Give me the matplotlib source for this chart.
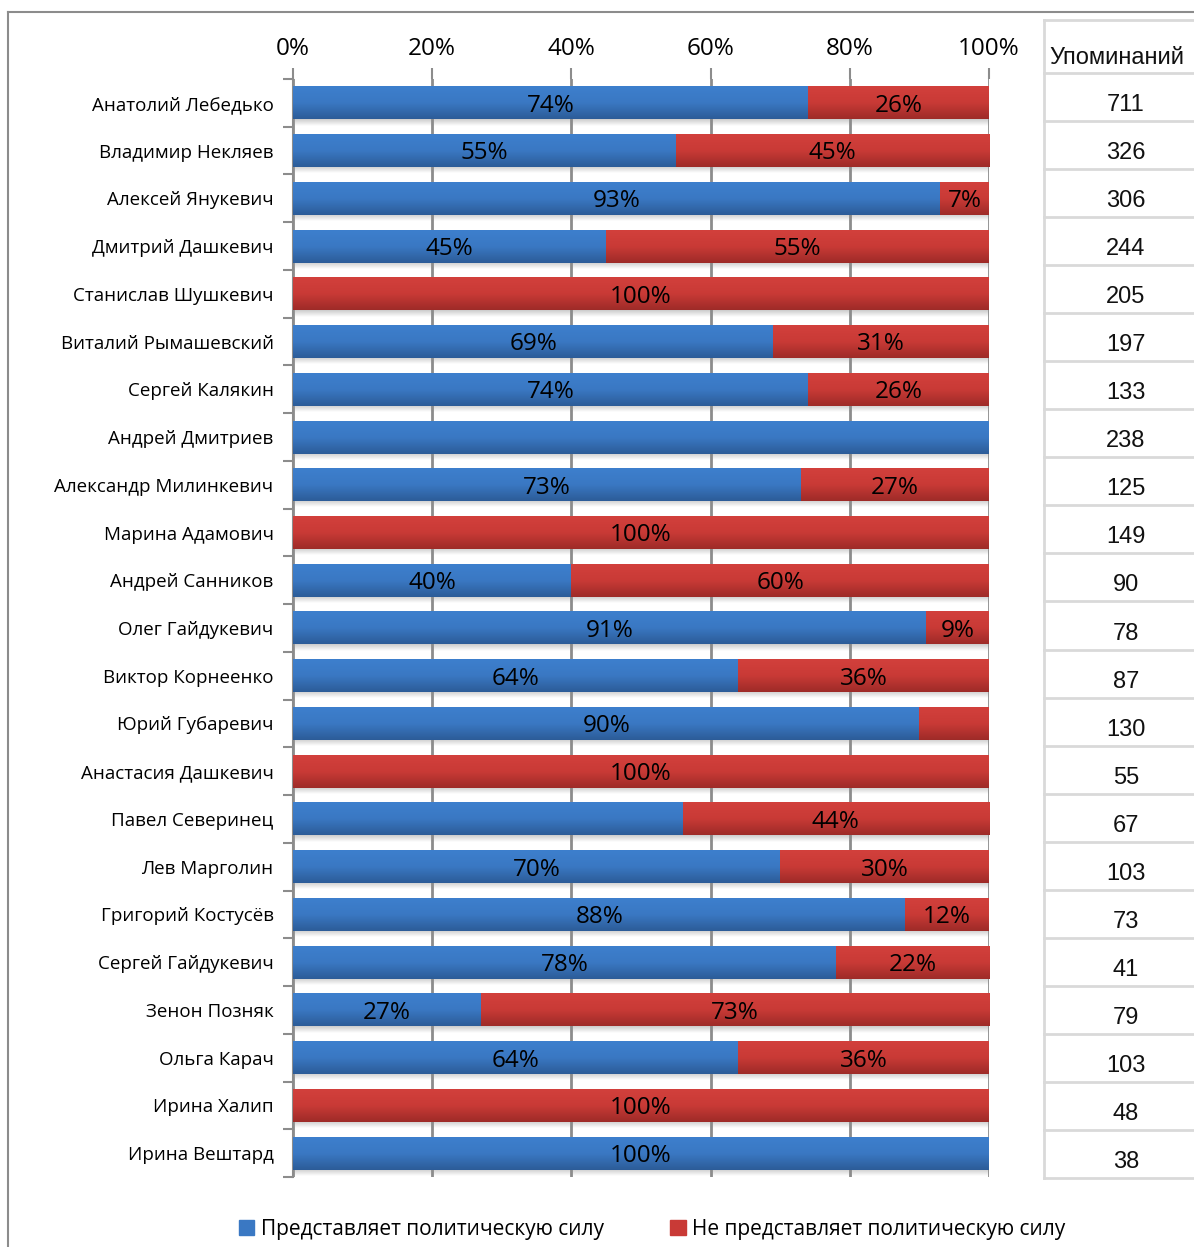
import numpy as np
import matplotlib.pyplot as plt
from matplotlib.colors import LinearSegmentedColormap
from matplotlib.lines import Line2D
from matplotlib.patches import Patch

plt.rcParams['font.family'] = ['Open Sans', 'DejaVu Sans']

# politicians, share of mentions as representing a political force (blue) or not (red)
names = ['Анатолий Лебедько', 'Владимир Некляев', 'Алексей Янукевич', 'Дмитрий Дашкевич',
         'Станислав Шушкевич', 'Виталий Рымашевский', 'Сергей Калякин', 'Андрей Дмитриев',
         'Александр Милинкевич', 'Марина Адамович', 'Андрей Санников', 'Олег Гайдукевич',
         'Виктор Корнеенко', 'Юрий Губаревич', 'Анастасия Дашкевич', 'Павел Северинец',
         'Лев Марголин', 'Григорий Костусёв', 'Сергей Гайдукевич', 'Зенон Позняк',
         'Ольга Карач', 'Ирина Халип', 'Ирина Вештард']
represents = [74, 55, 93, 45, 0, 69, 74, 100, 73, 0, 40, 91, 64, 90, 0, 56, 70, 88, 78, 27, 64, 0, 100]
not_represents = [26, 45, 7, 55, 100, 31, 26, 0, 27, 100, 60, 9, 36, 10, 100, 44, 30, 12, 22, 73, 36, 100, 0]
# some segments have no value label on them
show_blue = [1, 1, 1, 1, 0, 1, 1, 0, 1, 0, 1, 1, 1, 1, 0, 0, 1, 1, 1, 1, 1, 0, 1]
show_red = [1, 1, 1, 1, 1, 1, 1, 0, 1, 1, 1, 1, 1, 0, 1, 1, 1, 1, 1, 1, 1, 1, 0]
mentions = [711, 326, 306, 244, 205, 197, 133, 238, 125, 149, 90, 78, 87, 130, 55, 67,
            103, 73, 41, 79, 103, 48, 38]
x_ticks = [0, 20, 40, 60, 80, 100]
legend_labels = ['Представляет политическую силу', 'Не представляет политическую силу']

W, H = 1194, 1247
fig = plt.figure(figsize=(W / 100, H / 100), dpi=100)


def fx(px):
    return px / W


def fy(py):
    return 1 - py / H


ax = fig.add_axes([fx(293), fy(1177), (989 - 293) / W, (1177 - 79) / H])

blue_cmap = LinearSegmentedColormap.from_list('b', ['#3d7fcd', '#3a78c3', '#2c5c98'])
red_cmap = LinearSegmentedColormap.from_list('r', ['#d2403c', '#c93a36', '#9e2b28'])

y = np.arange(len(names))
bh = 0.69
b1 = ax.barh(y, represents, height=bh, color='#3a78c3', zorder=3)
b2 = ax.barh(y, not_represents, left=represents, height=bh, color='#c93a36', zorder=3)

# vertical gradient on every bar segment
grad = np.linspace(0, 1, 64).reshape(-1, 1)
for bars, cmap in ((b1, blue_cmap), (b2, red_cmap)):
    for p in bars:
        w = p.get_width()
        if w <= 0:
            continue
        x0, y0, h = p.get_x(), p.get_y(), p.get_height()
        ax.imshow(grad, cmap=cmap, aspect='auto', origin='upper',
                  extent=(x0, x0 + w, y0 + h, y0), zorder=3.5, interpolation='bilinear')

# soft shadow under each bar
shade = np.zeros((32, 1, 4))
shade[..., :3] = 0.55
shade[:, 0, 3] = np.linspace(0.45, 0, 32)
for i in y:
    top = i + bh / 2
    ax.imshow(shade, aspect='auto', origin='upper', extent=(0.3, 100, top + 0.13, top),
              zorder=2.5, interpolation='bilinear')

for i in y:
    b, r = represents[i], not_represents[i]
    if show_blue[i] and b > 0:
        ax.text(b / 2, i + 0.06, f'{b}%', ha='center', va='center', fontsize=17.5, zorder=5)
    if show_red[i] and r > 0:
        ax.text(b + r / 2, i + 0.06, f'{r}%', ha='center', va='center', fontsize=17.5, zorder=5)

ax.set_xlim(0, 100)
ax.set_ylim(len(names) - 0.5, -0.5)
ax.set_xticks(x_ticks)
ax.set_xticklabels([f'{t}%' for t in x_ticks], fontsize=17.5)
ax.xaxis.tick_top()
ax.tick_params(axis='x', length=8, width=1.5, color='#8c8c8c', pad=5)
ax.set_yticks(y)
ax.set_yticklabels(names, fontsize=13.5)
ax.set_yticks(np.arange(len(names) + 1) - 0.5, minor=True)
ax.tick_params(axis='y', which='major', length=0, pad=14)
ax.tick_params(axis='y', which='minor', length=7, width=1.5, color='#8c8c8c')
ax.grid(axis='x', color='#8c8c8c', lw=2, zorder=1)
for s in ('top', 'right', 'bottom'):
    ax.spines[s].set_visible(False)
ax.spines['left'].set_color('#8c8c8c')
ax.spines['left'].set_linewidth(1.5)

# outer frame of the chart
fig.add_artist(Line2D([fx(8), fx(8)], [fy(12), fy(1247)], color='#8c8c8c', lw=1.5))
fig.add_artist(Line2D([fx(8), fx(1194)], [fy(12), fy(12)], color='#8c8c8c', lw=1.5))

# mentions table on the right
tcol = '#d9d9d9'
fig.add_artist(Line2D([fx(1044), fx(1044)], [fy(20), fy(1178)], color=tcol, lw=2))
fig.add_artist(Line2D([fx(1044), fx(1194)], [fy(20), fy(20)], color=tcol, lw=2))
row_top, row_h = 73, (1178 - 73) / len(mentions)
for k in range(len(mentions) + 1):
    yy = row_top + k * row_h
    fig.add_artist(Line2D([fx(1044), fx(1194)], [fy(yy), fy(yy)], color=tcol, lw=2))
fig.text(fx(1049), fy(58), 'Упоминаний', ha='left', va='center', fontsize=17,
         family='Liberation Sans', color='#111111')
for k, m in enumerate(mentions):
    fig.text(fx(1126), fy(row_top + (k + 0.5) * row_h + 8), str(m), ha='center', va='center',
             fontsize=17, family='Liberation Sans', color='#111111')

handles = [Patch(color='#3a78c3'), Patch(color='#c93a36')]
fig.legend(handles, legend_labels, loc='center', bbox_to_anchor=(fx(652), fy(1229)), ncol=2,
           frameon=False, fontsize=15, handlelength=0.75, handleheight=0.75,
           handletextpad=0.3, columnspacing=3.2)

fig.savefig('out.png', dpi=100)
